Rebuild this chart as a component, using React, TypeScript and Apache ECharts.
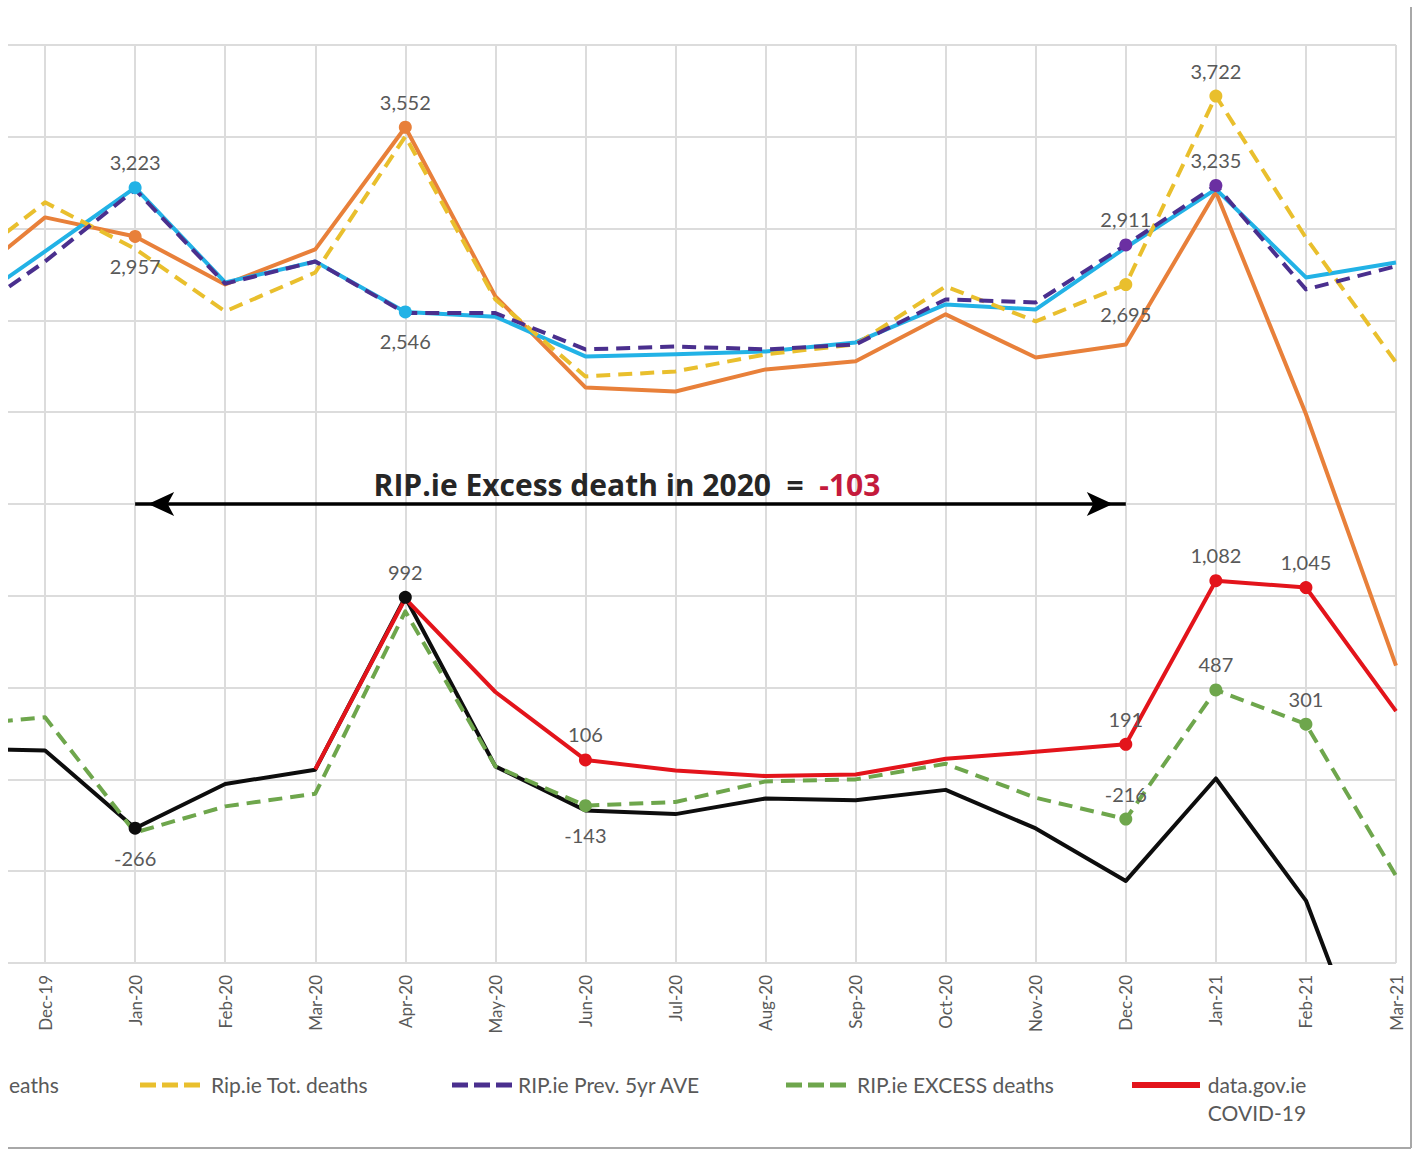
import React, { useEffect, useRef } from 'react';
import * as echarts from 'echarts';

// ---------- data ----------
const MONTHS = ['Nov-19', 'Dec-19', 'Jan-20', 'Feb-20', 'Mar-20', 'Apr-20', 'May-20', 'Jun-20', 'Jul-20', 'Aug-20', 'Sep-20', 'Oct-20', 'Nov-20', 'Dec-20', 'Jan-21', 'Feb-21', 'Mar-21'];

const ORANGE_VALUES = [2663, 3061, 2957, 2696, 2887, 3552, 2631, 2135, 2113, 2233, 2277, 2533, 2298, 2369, 3200, 1990, 620];
const CYAN_VALUES = [2533, 2876, 3223, 2707, 2821, 2546, 2520, 2304, 2315, 2331, 2380, 2587, 2560, 2897, 3215, 2734, 2815];
const BLACK_VALUES = [169, 158, -266, -25, 53, 992, 71, -169, -189, -104, -113, -57, -267, -553, 5, -660, -1950];
const YELLOW_VALUES = [2761, 3143, 2890, 2549, 2761, 3502, 2614, 2195, 2222, 2315, 2369, 2685, 2495, 2695, 3722, 2950, 2271];
const PURPLE_VALUES = [2478, 2821, 3213, 2700, 2821, 2540, 2540, 2342, 2358, 2342, 2369, 2614, 2598, 2911, 3235, 2669, 2795];
const GREEN_VALUES = [294, 338, -289, -147, -78, 915, 71, -143, -123, -11, 0, 85, -100, -216, 487, 301, -525];
const RED_VALUES = [null, null, null, null, 55, 985, 476, 106, 48, 18, 27, 112, 150, 191, 1082, 1045, 372];

// labelled points: month -> label position
const ORANGE_LABELS: Record<string, string> = { 'Jan-20': 'bottom', 'Apr-20': 'top' };
const CYAN_LABELS: Record<string, string> = { 'Jan-20': 'top', 'Apr-20': 'bottom' };
const BLACK_LABELS: Record<string, string> = { 'Jan-20': 'bottom', 'Apr-20': 'top' };
const YELLOW_LABELS: Record<string, string> = { 'Dec-20': 'bottom', 'Jan-21': 'top' };
const PURPLE_LABELS: Record<string, string> = { 'Dec-20': 'top', 'Jan-21': 'top' };
const GREEN_LABELS: Record<string, string> = { 'Jun-20': 'bottom', 'Dec-20': 'top', 'Jan-21': 'top', 'Feb-21': 'top' };
const RED_LABELS: Record<string, string> = { 'Jun-20': 'top', 'Dec-20': 'top', 'Jan-21': 'top', 'Feb-21': 'top' };

const Y_MIN = -1000;
const Y_MAX = 4000;
const Y_STEP = 500;

const EXCESS_2020 = -103;
const ARROW_FROM = 'Jan-20';
const ARROW_TO = 'Dec-20';
const ARROW_LEVEL = 1500;

const LEGEND_NAMES = ['Rip.ie Tot. deaths', 'RIP.ie Prev. 5yr AVE', 'RIP.ie EXCESS deaths', 'data.gov.ie\nCOVID-19'];
const CUT_LEGEND_TEXT = 'eaths';

// ---------- styles / layout ----------
const OFF = 100; // chart canvas extends OFF px to the left of the visible page (cropped view)
const W = 1418;
const H = 1151;

const C = {
  orange: '#E8803A',
  cyan: '#22B2E6',
  black: '#0D0D0D',
  yellow: '#E9BF2D',
  purple: '#4A2F8E',
  purpleMarker: '#6B2FA2',
  green: '#6EA64C',
  red: '#E3141B',
  grid: '#DCDCDC',
  text: '#595959',
};

const LABEL_FONT = 'Lato, "Noto Sans", sans-serif';

const fmt = (p: any) => Number(p.value).toLocaleString('en-US');

function makeSeries(name: string, values: (number | null)[], color: string, dashed: boolean, labels: Record<string, string>, markerColor?: string) {
  return {
    type: 'line',
    name,
    data: values.map((v, i) => {
      const pos = labels[MONTHS[i]];
      if (pos && v != null) {
        return {
          value: v,
          symbol: 'circle',
          symbolSize: 13,
          itemStyle: { color: markerColor || color },
          label: { show: true, position: pos, distance: pos === 'top' ? 9 : 13 },
        };
      }
      return v;
    }),
    symbol: 'none',
    connectNulls: false,
    clip: true,
    silent: true,
    lineStyle: { color, width: 4, type: dashed ? [14, 8] : 'solid', cap: 'butt', join: 'round' },
    itemStyle: { color: markerColor || color },
    label: { show: false, formatter: fmt, fontSize: 20, color: C.text, fontFamily: LABEL_FONT },
    emphasis: { disabled: true },
  } as any;
}

const LEGEND_LAYOUT = [
  { color: C.yellow, dashed: true, x1: 140, x2: 200, tx: 211, align: 'left' },
  { color: C.purple, dashed: true, x1: 452, x2: 512, tx: 518, align: 'left' },
  { color: C.green, dashed: true, x1: 786, x2: 846, tx: 857, align: 'left' },
  { color: C.red, dashed: false, x1: 1132, x2: 1200, tx: 1257, align: 'center' },
];
const LEGEND_Y = 1084;
const LEGEND_FONT_SIZE = 21;

function buildOption() {
  const black = makeSeries('deaths (black)', BLACK_VALUES, C.black, false, BLACK_LABELS);
  black.markLine = {
    silent: true,
    animation: false,
    symbol: ['arrow', 'arrow'],
    lineStyle: { color: '#000', width: 3.5, type: 'solid' },
    itemStyle: { color: '#000' },
    label: { show: false },
    emphasis: { disabled: true },
    data: [[
      { coord: [ARROW_FROM, ARROW_LEVEL], symbolSize: [18, 26], symbolOffset: [0, 13] },
      { coord: [ARROW_TO, ARROW_LEVEL], symbolSize: [18, 26], symbolOffset: [0, 13] },
    ]],
  };

  const series = [
    makeSeries('deaths (orange)', ORANGE_VALUES, C.orange, false, ORANGE_LABELS),
    makeSeries('deaths (cyan)', CYAN_VALUES, C.cyan, false, CYAN_LABELS),
    black,
    makeSeries(LEGEND_NAMES[0], YELLOW_VALUES, C.yellow, true, YELLOW_LABELS),
    makeSeries(LEGEND_NAMES[1], PURPLE_VALUES, C.purple, true, PURPLE_LABELS, C.purpleMarker),
    makeSeries(LEGEND_NAMES[2], GREEN_VALUES, C.green, true, GREEN_LABELS),
    makeSeries(LEGEND_NAMES[3].replace('\n', ' '), RED_VALUES, C.red, false, RED_LABELS),
  ];

  const graphic: any[] = [
    // white crop strip on the left edge
    { type: 'rect', z: 100, silent: true, shape: { x: OFF, y: 0, width: 8, height: H }, style: { fill: '#fff' } },
    // chart frame (right and bottom)
    { type: 'line', z: 101, silent: true, shape: { x1: OFF + 1411, y1: 7, x2: OFF + 1411, y2: 1148 }, style: { stroke: '#A8A8A8', lineWidth: 2 } },
    { type: 'line', z: 101, silent: true, shape: { x1: OFF + 8, y1: 1148, x2: OFF + 1411, y2: 1148 }, style: { stroke: '#A8A8A8', lineWidth: 2 } },
    // annotation text
    {
      type: 'text', z: 101, silent: true, x: OFF + 627, y: 484,
      style: {
        text: `{a|RIP.ie Excess death in 2020  =  }{b|${EXCESS_2020}}`,
        align: 'center', verticalAlign: 'middle',
        rich: {
          a: { fontFamily: '"Open Sans", Lato, sans-serif', fontWeight: 'bold', fontSize: 30, fill: '#262626' },
          b: { fontFamily: '"Open Sans", Lato, sans-serif', fontWeight: 'bold', fontSize: 30, fill: '#C41A3C' },
        },
      },
    },
    // cut-off legend text
    { type: 'text', z: 101, silent: true, x: OFF + 9, y: LEGEND_Y, style: { text: CUT_LEGEND_TEXT, fontFamily: LABEL_FONT, fontSize: LEGEND_FONT_SIZE, fill: C.text, align: 'left', verticalAlign: 'middle' } },
  ];

  LEGEND_LAYOUT.forEach((l, i) => {
    graphic.push({
      type: 'line', z: 101, silent: true,
      shape: { x1: OFF + l.x1, y1: LEGEND_Y + 1, x2: OFF + l.x2, y2: LEGEND_Y + 1 },
      style: { stroke: l.color, lineWidth: l.dashed ? 5 : 6, lineDash: l.dashed ? [16, 6] : null, lineCap: 'butt' },
    });
    const multi = LEGEND_NAMES[i].includes('\n');
    graphic.push({
      type: 'text', z: 101, silent: true,
      x: OFF + l.tx, y: multi ? LEGEND_Y - 14 : LEGEND_Y,
      style: {
        text: LEGEND_NAMES[i], fontFamily: LABEL_FONT, fontSize: LEGEND_FONT_SIZE, fill: C.text,
        align: l.align, verticalAlign: multi ? 'top' : 'middle', lineHeight: 28,
      },
    });
  });

  return {
    animation: false,
    backgroundColor: '#fff',
    grid: { left: OFF - 45, right: (W + OFF) - (OFF + 1396), top: 45, bottom: H - 963, containLabel: false },
    xAxis: {
      type: 'category',
      data: MONTHS,
      boundaryGap: false,
      axisLine: { show: false },
      axisTick: { show: false },
      splitLine: { show: true, lineStyle: { color: C.grid, width: 2 } },
      axisLabel: {
        interval: 0, rotate: 90, margin: 12, fontSize: 17, color: C.text, fontFamily: LABEL_FONT,
        formatter: (v: string, i: number) => (i === 0 ? '' : v),
      },
    },
    yAxis: {
      type: 'value',
      min: Y_MIN,
      max: Y_MAX,
      interval: Y_STEP,
      axisLine: { show: false },
      axisTick: { show: false },
      axisLabel: { show: false },
      splitLine: { show: true, lineStyle: { color: C.grid, width: 2 } },
    },
    series,
    graphic,
  };
}

export default function App() {
  const ref = useRef<HTMLDivElement>(null);
  useEffect(() => {
    if (!ref.current) return;
    const chart = echarts.init(ref.current, undefined, { renderer: 'svg' });
    chart.setOption(buildOption() as any);
    return () => chart.dispose();
  }, []);
  return (
    <div style={{ position: 'fixed', left: 0, top: 0, width: W, height: H, overflow: 'hidden', background: '#fff' }}>
      <div ref={ref} style={{ position: 'absolute', left: -OFF, top: 0, width: W + OFF, height: H }} />
    </div>
  );
}
